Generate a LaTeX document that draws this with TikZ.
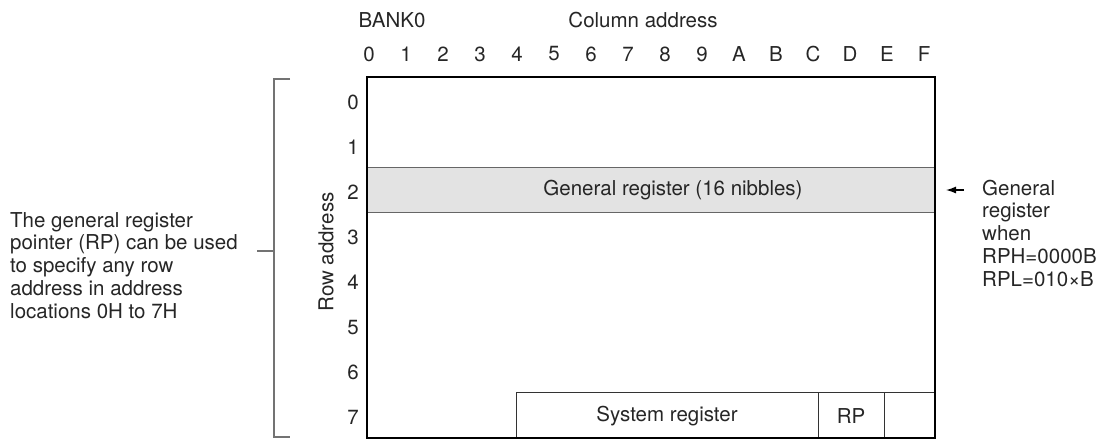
\documentclass[tikz,border=0pt]{standalone}
\usepackage{fontspec}
\setmainfont{TeX Gyre Heros}
\usetikzlibrary{arrows.meta}
\begin{document}
\begin{tikzpicture}[x=1pt,y=-1pt,
  every node/.style={font=\fontsize{20.5}{22.8}\selectfont, text=black!85, inner sep=0pt},
  outer/.style={line width=2.8pt, draw=black},
  band/.style={fill=black!11, draw=black!60, line width=1.4pt},
  cellbox/.style={draw=black!80, line width=1pt},
  brace/.style={draw=black!55, line width=1.4pt},
  pointer/.style={-{Latex[length=10pt,width=7pt]}, line width=1.3pt, draw=black}]
\useasboundingbox (0,0) rectangle (1102,440);
% general register band
\path[band] (367,167.2) rectangle (935,212.3);
\node (gr) at (673,190) {General register (16 nibbles)};
% system register
\draw[cellbox] (516,392.7) rectangle (818,438);
\node (sr) at (667,416) {System register};
\draw[cellbox] (818,392.7) rectangle (884,438);
\node (rp) at (851,416) {RP};
\draw[cellbox] (884,392.7) rectangle (935,438);
% outer box
\draw[outer] (367,77) rectangle (935,438);
% headings
\node (bank) at (392,20) {BANK0};
\node (coladdr) at (643,20) {Column address};
\foreach \t [count=\i from 0] in {0,1,2,3,4,5,6,7,8,9,A,B,C,D,E,F}
  \node (c\i) at (369+37*\i,54) {\t};
\foreach \i in {0,...,7}
  \node (r\i) at (353,102+45.1*\i) {\i};
\node[rotate=90] (rowaddr) at (326,252) {Row address};
% bracket
\coordinate (bt) at (290,79);
\coordinate (bb) at (290,437);
\coordinate (bm) at (274,251);
\coordinate (bl) at (257,251);
\draw[brace] (bt) -- (274,79) -- (274,437) -- (bb);
\draw[brace] (bl) -- (bm);
\node[anchor=north west, align=left] (lefttext) at (10,212)
 {The general register\\pointer (RP) can be used\\to specify any row\\address in address\\locations 0H to 7H};
% right annotation
\node[anchor=north west, align=left] (righttext) at (982,179.5)
 {General\\register\\when\\RPH=0000B\\RPL=010\texttimes B};
\coordinate (arrtail) at (964,190);
\coordinate (arrtip) at (946,190);
\draw[pointer] (arrtail) -- (arrtip);
\end{tikzpicture}
\end{document}
